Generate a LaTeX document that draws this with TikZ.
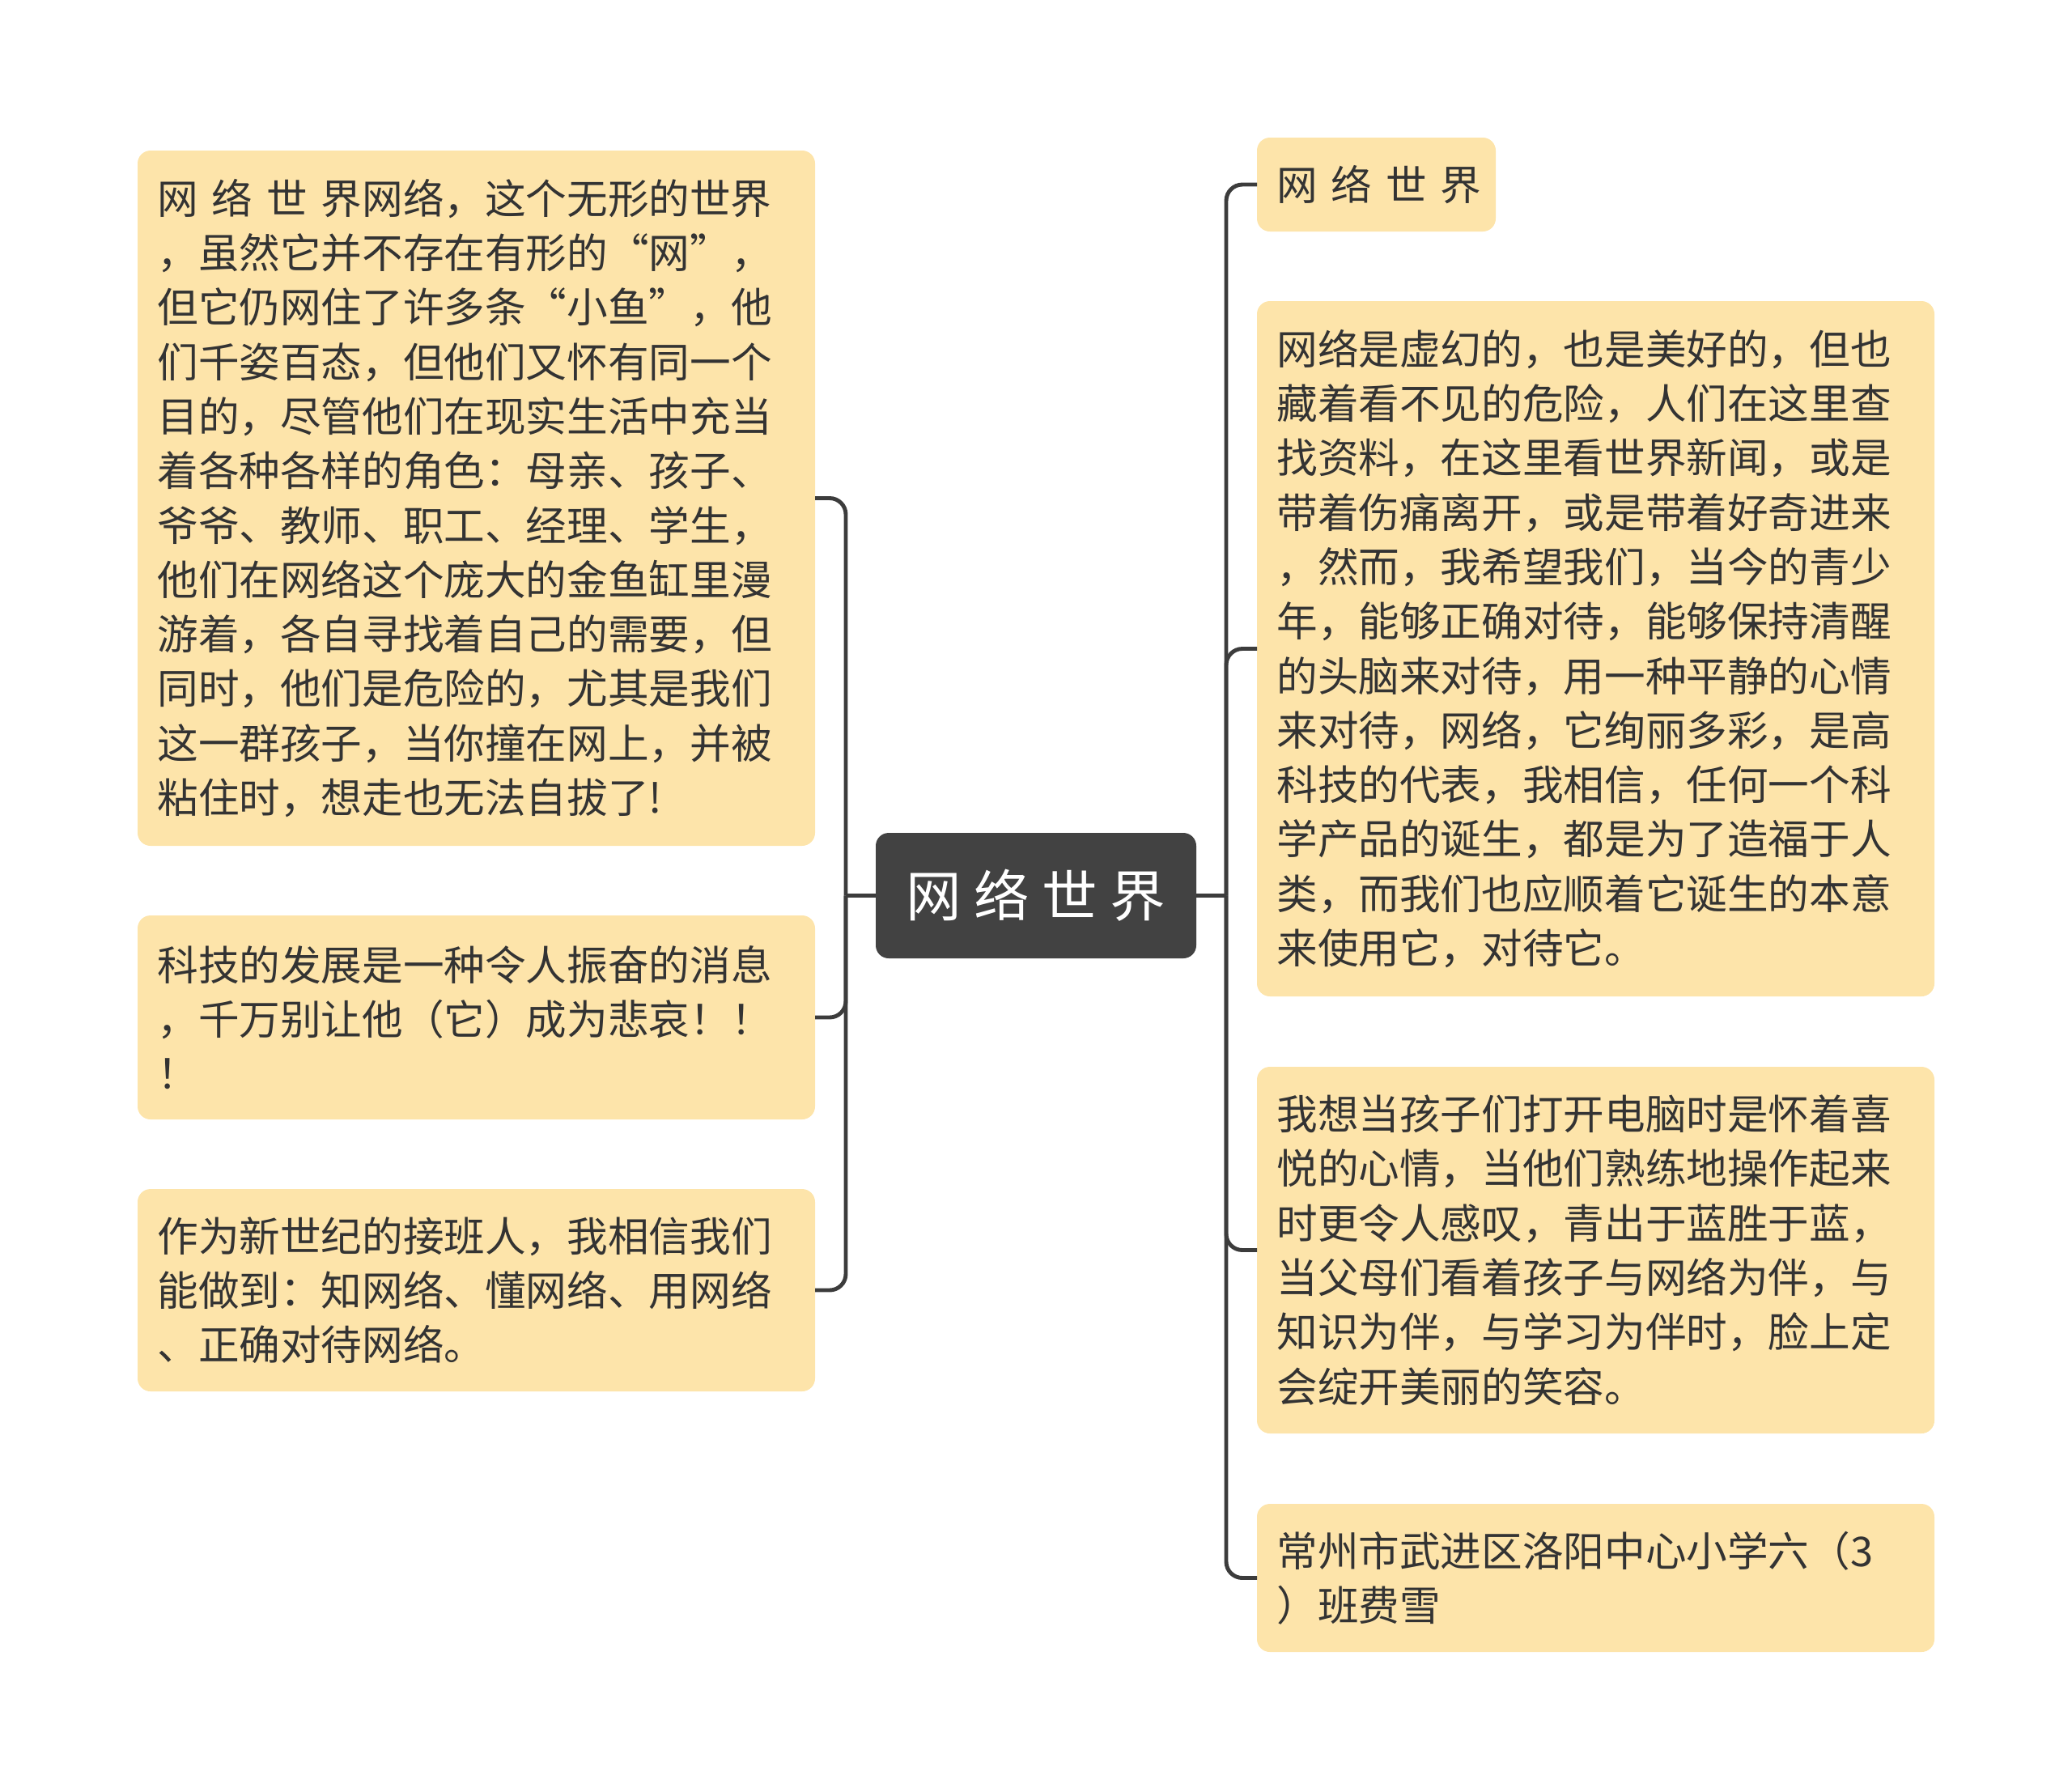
\documentclass[tikz,border=0pt]{standalone}
\usepackage{fontspec}
\setmainfont{Noto Sans CJK SC}
\usepackage{tikz}
\usetikzlibrary{positioning}
\definecolor{boxfill}{HTML}{FDE4AA}
\definecolor{rootfill}{HTML}{424242}
\definecolor{inktext}{HTML}{333333}
\definecolor{linkcol}{HTML}{3C3C3C}
\tikzset{
    topic/.style={rectangle,rounded corners=0.16cm,fill=boxfill,text=inktext,
        align=left,inner xsep=0.245cm,inner ysep=0pt,outer sep=0pt,
        font=\fontsize{14.4}{19.15}\selectfont},
    widetopic/.style={topic,text width=7.88cm},
    rootnode/.style={rectangle,rounded corners=0.16cm,fill=rootfill,text=white,
        minimum width=3.96cm,minimum height=1.55cm,inner sep=0pt,outer sep=0pt,
        font=\fontsize{19.5}{24}\selectfont},
    link/.style={draw=linkcol,line width=1.4pt,rounded corners=0.2cm},
    node distance=0.86cm
}

\begin{document}
\begin{tikzpicture}
    \useasboundingbox (0,0) rectangle (25.6,-22.13);
    \node[rootnode] (root) at (12.80,-11.065) {网 络 世 界};

    \node[widetopic,minimum height=8.59cm,anchor=north west] (l1) at (1.70,-1.86) {
        网 络 世 界网络，这个无形的世界\\
        ，虽然它并不存在有形的“网”，\\
        但它仍网住了许多条“小鱼”，他\\
        们千姿百态，但他们又怀有同一个\\
        目的，尽管他们在现实生活中充当\\
        着各种各样的角色：母亲、孩子、\\
        爷爷、教师、职工、经理、学生，\\
        他们在网络这个庞大的金鱼缸里漫\\
        游着，各自寻找着自己的需要，但\\
        同时，他们是危险的，尤其是我们\\
        这一群孩子，当你撞在网上，并被\\
        粘住时，想走也无法自拔了!};
    \node[widetopic,minimum height=2.52cm] (l2) [below=of l1] {
        科技的发展是一种令人振奋的消息\\
        ，千万别让他（它）成为悲哀！！\\
        ！};
    \node[widetopic,minimum height=2.50cm] (l3) [below=of l2] {
        作为新世纪的接班人，我相信我们\\
        能做到：知网络、懂网络、用网络\\
        、正确对待网络。};

    \node[topic,text width=2.46cm,minimum height=1.16cm,anchor=north west] (r1) at (15.53,-1.70) {\mbox{网 络 世 界}};
    \node[widetopic,minimum height=8.59cm] (r2) [below=of r1.south west,anchor=north west] {
        网络是虚幻的，也是美好的，但也\\
        藏着看不见的危险，人们在这里查\\
        找资料，在这里看世界新闻，或是\\
        带着伤痛离开，或是带着好奇进来\\
        ，然而，我希望我们，当今的青少\\
        年，能够正确对待，能够保持清醒\\
        的头脑来对待，用一种平静的心情\\
        来对待，网络，它绚丽多彩，是高\\
        科技的代表，我相信，任何一个科\\
        学产品的诞生，都是为了造福于人\\
        类，而我们也应顺着它诞生的本意\\
        来使用它，对待它。};
    \node[widetopic,minimum height=4.53cm] (r3) [below=0.87cm of r2] {
        我想当孩子们打开电脑时是怀着喜\\
        悦的心情，当他们熟练地操作起来\\
        时更令人感叹，青出于蓝胜于蓝，\\
        当父母们看着孩子与网络为伴，与\\
        知识为伴，与学习为伴时，脸上定\\
        会绽开美丽的笑容。};
    \node[widetopic,minimum height=1.83cm] (r4) [below=0.87cm of r3] {
        常州市武进区洛阳中心小学六（3\\
        ）班费雪};

    \coordinate[left=0.37cm of root.west] (lbus);
    \coordinate[right=0.37cm of root.east] (rbus);
    \draw[link] (root.west) -- (lbus);
    \draw[link] (root.east) -- (rbus);
    \foreach \t in {l1,l2,l3}
        \draw[link] (lbus) |- (\t.east);
    \foreach \t in {r1,r2,r3,r4}
        \draw[link] (rbus) |- (\t.west);
\end{tikzpicture}
\end{document}
